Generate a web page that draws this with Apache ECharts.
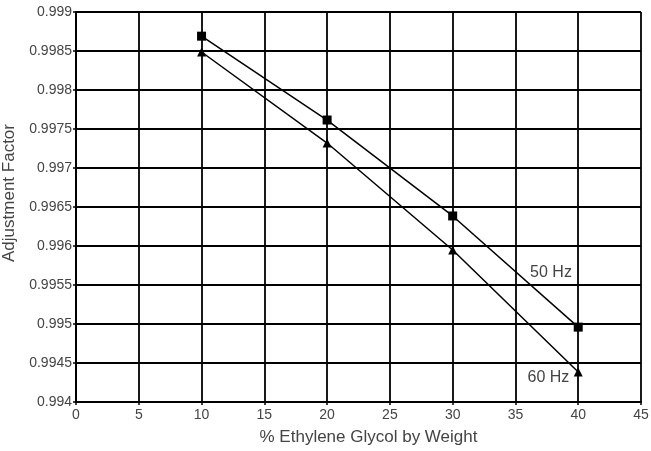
<!DOCTYPE html>
<html><head><meta charset="utf-8">
<script src="https://cdn.jsdelivr.net/npm/echarts@6/dist/echarts.min.js"></script>
<style>html,body{margin:0;padding:0;background:#fff}#c{width:651px;height:451px}</style>
</head><body><div id="c"></div>
<script>
const xValues = [10, 20, 30, 40];
const hz50 = [0.99869, 0.997615, 0.996385, 0.99496];
const hz60 = [0.998487, 0.99732, 0.995949, 0.994385];
const xTicks = [0, 5, 10, 15, 20, 25, 30, 35, 40, 45];
const yTicks = [0.994, 0.9945, 0.995, 0.9955, 0.996, 0.9965, 0.997, 0.9975, 0.998, 0.9985, 0.999];
const seriesNames = ['50 Hz', '60 Hz'];
const labelPos50 = [37.83, 0.99566];
const labelPos60 = [37.63, 0.994314];

const font = 'Liberation Sans, Arial, sans-serif';
const chart = echarts.init(document.getElementById('c'));
chart.setOption({
  animation: false,
  grid: {left: 76, right: 10, top: 12, bottom: 49, outerBoundsMode: 'none', containLabel: false},
  xAxis: {
    type: 'value', min: xTicks[0], max: xTicks[xTicks.length-1], interval: 5,
    name: '% Ethylene Glycol by Weight', nameLocation: 'middle', nameGap: 27,
    nameTextStyle: {color: '#444', fontSize: 17, fontFamily: font, padding: [0, 0, 0, 20]},
    axisLine: {lineStyle: {color: '#000', width: 2}},
    axisTick: {show: true, length: 3, lineStyle: {color: '#000', width: 1.5}},
    axisLabel: {color: '#444', fontSize: 14, fontFamily: font, margin: 6},
    splitLine: {show: true, lineStyle: {color: '#000', width: 1.8}}
  },
  yAxis: {
    type: 'value', min: yTicks[0], max: yTicks[yTicks.length-1], interval: 0.0005,
    name: 'Adjustment Factor', nameLocation: 'middle', nameGap: 56,
    nameTextStyle: {color: '#444', fontSize: 17, fontFamily: font, padding: [0, 0, 0, 28]},
    axisLine: {show: true, lineStyle: {color: '#000', width: 2}},
    axisTick: {show: true, length: 3, lineStyle: {color: '#000', width: 1.5}},
    axisLabel: {color: '#444', fontSize: 14, fontFamily: font, margin: 4,
      formatter: v => String(parseFloat(v.toFixed(4)))},
    splitLine: {show: true, lineStyle: {color: '#000', width: 1.8}}
  },
  series: [
    {
      name: seriesNames[0], type: 'line', data: xValues.map((x,i)=>[x, hz50[i]]),
      symbol: 'rect', symbolSize: 9, itemStyle: {color: '#000'},
      lineStyle: {color: '#000', width: 1.5},
      markPoint: {symbol: 'circle', symbolSize: 0, data: [{coord: labelPos50, value: seriesNames[0]}],
        label: {show: true, formatter: seriesNames[0], color: '#444', fontSize: 16, fontFamily: font}}
    },
    {
      name: seriesNames[1], type: 'line', data: xValues.map((x,i)=>[x, hz60[i]]),
      symbol: 'triangle', symbolSize: 9, itemStyle: {color: '#000'},
      lineStyle: {color: '#000', width: 1.5},
      markPoint: {symbol: 'circle', symbolSize: 0, data: [{coord: labelPos60, value: seriesNames[1]}],
        label: {show: true, formatter: seriesNames[1], color: '#444', fontSize: 16, fontFamily: font}}
    }
  ]
});
</script></body></html>
